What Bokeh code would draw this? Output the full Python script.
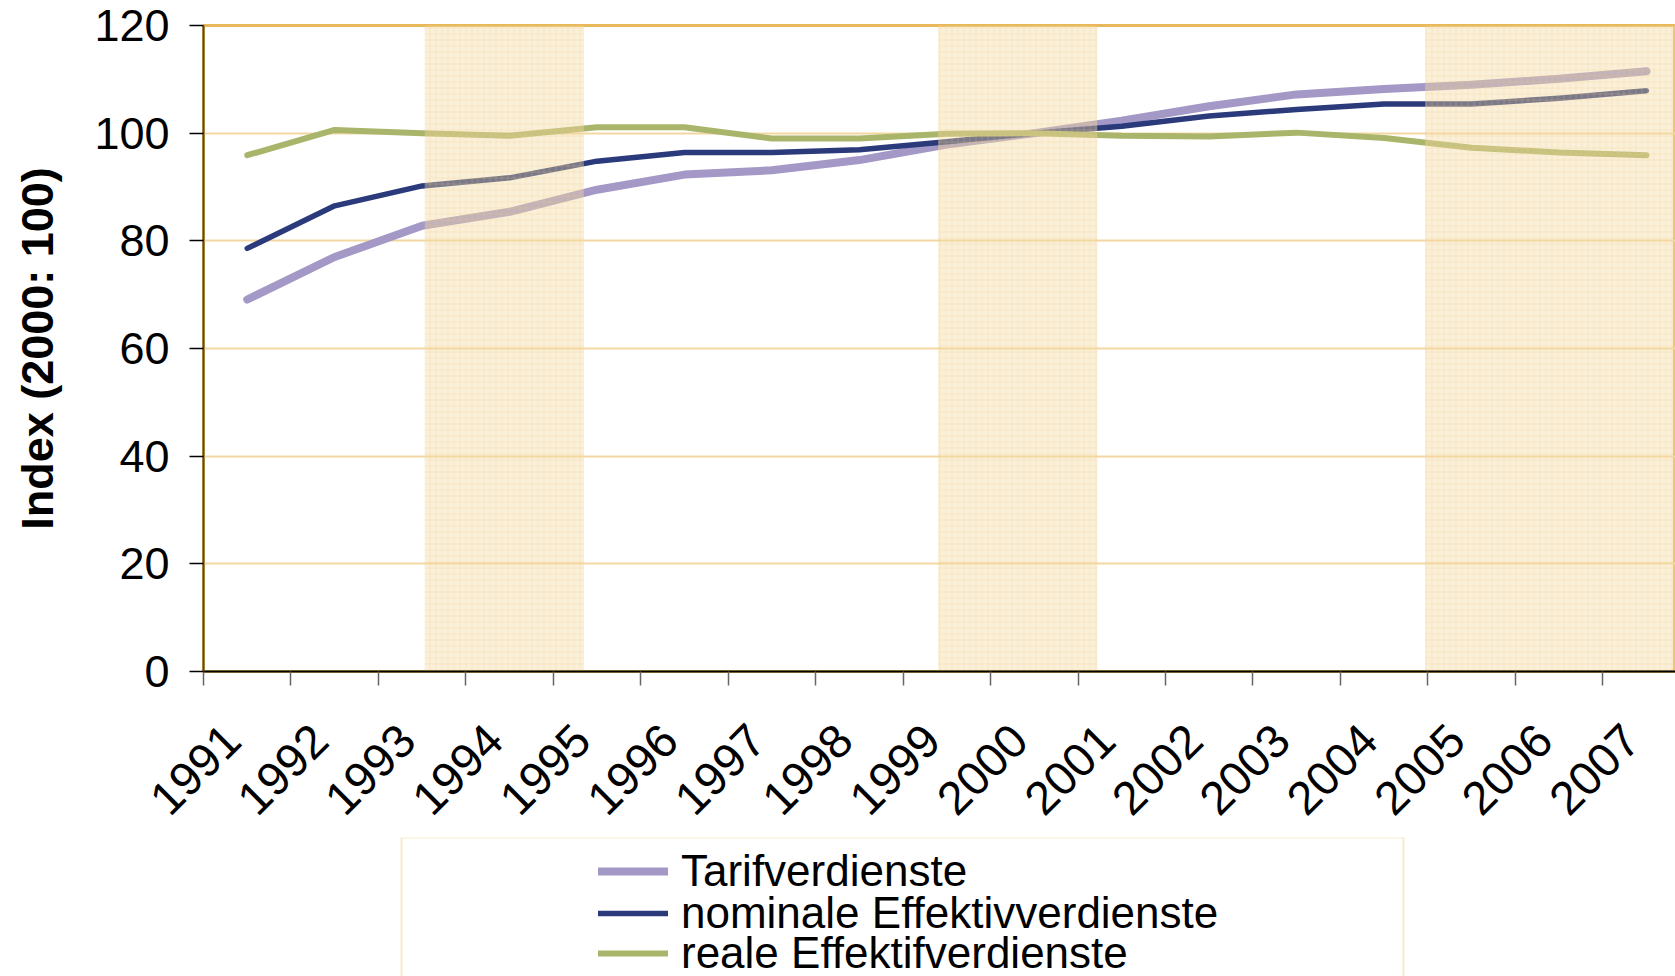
from bokeh.plotting import figure
from bokeh.models import Range1d, FixedTicker, Legend, LegendItem, BoxAnnotation
from bokeh.layouts import column
from bokeh.embed import file_html
from bokeh.resources import INLINE
import math

# ---------------- data ----------------
years = [1991, 1992, 1993, 1994, 1995, 1996, 1997, 1998, 1999,
         2000, 2001, 2002, 2003, 2004, 2005, 2006, 2007]
year_labels = ["1991", "1992", "1993", "1994", "1995", "1996", "1997", "1998", "1999",
               "2000", "2001", "2002", "2003", "2004", "2005", "2006", "2007"]
tarif = [69.1, 77.0, 82.8, 85.4, 89.5, 92.3, 93.1, 95.0, 97.9,
         100.0, 102.3, 105.0, 107.2, 108.2, 109.0, 110.1, 111.5]
nominal = [78.6, 86.5, 90.2, 91.7, 94.8, 96.4, 96.4, 96.9, 98.4,
           100.0, 101.3, 103.2, 104.4, 105.4, 105.4, 106.5, 107.9]
real = [95.9, 100.6, 100.0, 99.5, 101.1, 101.1, 99.0, 99.0, 99.9,
        100.0, 99.5, 99.4, 100.1, 99.1, 97.3, 96.4, 95.9]
series_names = ["Tarifverdienste", "nominale Effektivverdienste", "reale Effektifverdienste"]
y_ticks = [0, 20, 40, 60, 80, 100, 120]
band_start = [1993.03, 1998.9, 2004.47]
band_end = [1994.85, 2000.72, 2007.6]
y_label = "Index (2000: 100)"

# ---------------- style ----------------
FONT = "Liberation Sans"
GOLD = "#E8B85A"
GRID = "#F4D7A0"
C_TARIF = "#A398C6"
C_NOM = "#2B3A7B"
C_REAL = "#A9B56A"
FRAME_W = 1472          # plot frame width in px
CAT_W = 87.45           # px per year
LABEL_SHIFT = 0.17      # horizontal nudge of the rotated year labels

y_min, y_max = y_ticks[0], y_ticks[-1]
boundaries = [y - 0.5 for y in years] + [years[-1] + 0.5]
label_pos = [y - LABEL_SHIFT for y in years]

p = figure(width=1675, height=835, output_backend="svg", toolbar_location=None,
           x_range=Range1d(years[0] - 0.5, years[0] - 0.5 + FRAME_W / CAT_W),
           y_range=Range1d(y_min, y_max),
           min_border_left=203, min_border_right=0, min_border_top=25, min_border_bottom=164)
p.background_fill_color = "white"
p.border_fill_color = "white"
p.outline_line_color = GOLD
p.outline_line_width = 3

r_tarif = p.line(years, tarif, line_color=C_TARIF, line_width=8, line_cap="round", line_join="round")
r_nom = p.line(years, nominal, line_color=C_NOM, line_width=5.5, line_cap="round", line_join="round")
r_real = p.line(years, real, line_color=C_REAL, line_width=6, line_cap="round", line_join="round")

p.quad(left=band_start, right=band_end, bottom=y_min, top=y_max,
       fill_color="#F3D9A3", fill_alpha=0.4, line_color=None,
       hatch_pattern="+", hatch_color="#EBC277", hatch_alpha=0.4, hatch_scale=6, hatch_weight=0.6)

# x axis
xa = p.xaxis[0]
xa.ticker = FixedTicker(ticks=label_pos, minor_ticks=boundaries)
xa.major_label_overrides = {pos: lab for pos, lab in zip(label_pos, year_labels)}
xa.major_tick_out = 0
xa.major_tick_in = 0
xa.minor_tick_out = 14
xa.minor_tick_in = 0
xa.minor_tick_line_color = "#666666"
xa.minor_tick_line_width = 1.5
xa.axis_line_color = "black"
xa.axis_line_width = 2
xa.major_label_orientation = math.pi / 4
xa.major_label_standoff = 47
xa.major_label_text_font = FONT
xa.major_label_text_font_size = "47px"
xa.major_label_text_color = "black"

# y axis
ya = p.yaxis[0]
ya.ticker = FixedTicker(ticks=y_ticks)
ya.major_tick_out = 14
ya.major_tick_in = 0
ya.major_tick_line_color = "black"
ya.major_tick_line_width = 1.5
ya.minor_tick_out = 0
ya.minor_tick_in = 0
ya.axis_line_color = "#5B4A22"
ya.axis_line_width = 2
ya.major_label_standoff = 20
ya.major_label_text_font = FONT
ya.major_label_text_font_size = "45px"
ya.major_label_text_color = "black"
ya.axis_label = y_label
ya.axis_label_text_font = FONT
ya.axis_label_text_font_size = "45px"
ya.axis_label_text_font_style = "bold"
ya.axis_label_text_color = "black"
ya.axis_label_standoff = 28

p.xgrid.visible = False
p.ygrid.ticker = FixedTicker(ticks=y_ticks)
p.ygrid.grid_line_color = GRID
p.ygrid.grid_line_width = 2

# ---------------- legend figure ----------------
p2 = figure(width=1675, height=141, output_backend="svg", toolbar_location=None,
            x_range=Range1d(0, FRAME_W), y_range=Range1d(0, 1),
            x_axis_location=None, y_axis_location=None,
            min_border_left=203, min_border_right=0, min_border_top=2, min_border_bottom=0)
p2.grid.visible = False
p2.outline_line_color = None
p2.background_fill_color = "white"
p2.border_fill_color = "white"

# legend renderers (their data lies outside this panel's ranges, only the legend glyphs show)
l1 = p2.line(years, tarif, line_color=C_TARIF, line_width=8, line_cap="round")
l2 = p2.line(years, nominal, line_color=C_NOM, line_width=5.5, line_cap="round")
l3 = p2.line(years, real, line_color=C_REAL, line_width=6, line_cap="round")

# legend box (bottom edge lies below the page)
p2.add_layout(BoxAnnotation(left=198, right=1200, top=1, bottom=-1,
                            fill_alpha=0, line_color=GOLD, line_width=2))

row_y = [80, 38, -2]   # one legend per row, for the reference's tight line pitch
for name, rend, ly in zip(series_names, [l1, l2, l3], row_y):
    lg = Legend(items=[LegendItem(label=name, renderers=[rend])],
                location=(395, ly), orientation="vertical",
                glyph_width=70, glyph_height=20, label_standoff=13,
                padding=0, margin=0, spacing=0,
                border_line_color=None, background_fill_alpha=0,
                label_text_font=FONT, label_text_font_size="44px", label_text_color="black")
    p2.add_layout(lg)

layout = column(p, p2, spacing=0)
open("out.html", "w").write(file_html(layout, INLINE))
